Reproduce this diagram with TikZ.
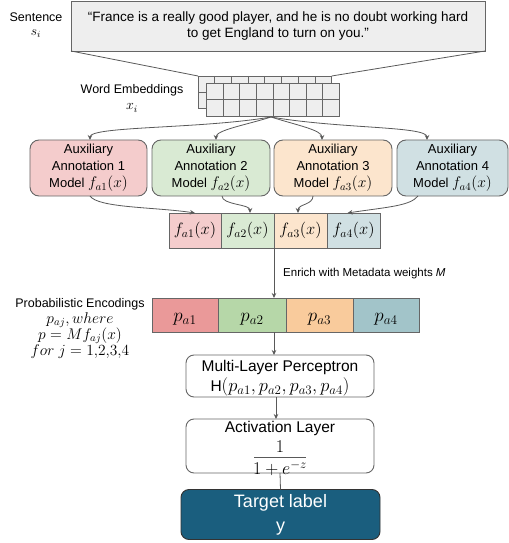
\documentclass[tikz,border=0pt]{standalone}
\usepackage{fix-cm}
\usepackage{fontspec}
\setmainfont{Liberation Sans}
\usetikzlibrary{arrows.meta}
\definecolor{edgegray}{HTML}{666666}
\definecolor{arrgray}{HTML}{595959}
\definecolor{lightg}{HTML}{EEEEEE}
\definecolor{pinkA}{HTML}{F4CCCC}
\definecolor{greenA}{HTML}{D9EAD3}
\definecolor{orangeA}{HTML}{FCE5CD}
\definecolor{blueA}{HTML}{D0E0E3}
\definecolor{pinkB}{HTML}{EA9999}
\definecolor{greenB}{HTML}{B6D7A8}
\definecolor{orangeB}{HTML}{F9CB9C}
\definecolor{blueB}{HTML}{A2C4C9}
\definecolor{teal}{HTML}{1A5E7E}
\newcommand{\fs}[2]{\fontsize{#1bp}{#2bp}\selectfont}
\newcommand{\mth}[2]{{\fontsize{#1bp}{#1bp}\selectfont$#2$}}
\tikzset{
  box/.style={draw=edgegray, line width=0.9bp, inner sep=0pt, outer sep=0pt},
  aux/.style={box, rounded corners=9bp, minimum height=56bp, align=center, font=\fs{13}{17}},
  cell/.style={box, minimum height=35bp},
  pcell/.style={box, minimum height=34bp, minimum width=67bp},
  wbox/.style={box, fill=white, rounded corners=8bp, minimum width=188bp},
  arr/.style={draw=arrgray, line width=0.8bp, -{Stealth[length=5bp,width=4.5bp]}},
  ln/.style={draw=arrgray, line width=0.8bp},
  lbl/.style={inner sep=0pt, font=\fs{12.5}{15}},
}
\begin{document}
\begin{tikzpicture}[x=1bp,y=-1bp]
\useasboundingbox (0,0) rectangle (509,543);

% Sentence
\node[box, fill=lightg, minimum width=414bp, minimum height=50bp, align=center, font=\fs{13.5}{15.5}] (sent) at (278,26)
  {``France is a really good player, and he is no doubt working hard\\to get England to turn on you.''};
\node[lbl] (senl) at (36,17) {Sentence};
\node[lbl] (sens) at (36,34) {\mth{13.5}{s_i}};

% Embedding grids
\node[box, fill=lightg, minimum width=133.7bp, minimum height=32bp] (embback) at (264.85,92) {};
\foreach \i in {1,...,7} \draw[edgegray, line width=0.9bp] ([xshift=\i*16.71bp]embback.north west) -- ([xshift=\i*16.71bp]embback.south west);
\draw[edgegray, line width=0.9bp] (embback.west) -- (embback.east);
\node[box, fill=lightg, minimum width=132.6bp, minimum height=33.7bp] (emb) at (273,99.85) {};
\foreach \i in {1,...,7} \draw[edgegray, line width=0.9bp] ([xshift=\i*16.575bp]emb.north west) -- ([xshift=\i*16.575bp]emb.south west);
\draw[edgegray, line width=0.9bp] (emb.west) -- (emb.east);
\node[lbl] (embl) at (132,90.5) {Word Embeddings};
\node[lbl] (embx) at (132,108) {\mth{14}{x_i}};

\draw[ln] (sent.south west) -- (embback.north west);
\draw[ln] (sent.south east) -- (embback.north east);

% Auxiliary models
\node[aux, fill=pinkA, minimum width=117bp] (a1) at (88.5,168) {Auxiliary\\Annotation 1\\Model \mth{15.5}{f_{a1}(x)}};
\node[aux, fill=greenA, minimum width=118bp] (a2) at (211,168) {Auxiliary\\Annotation 2\\Model \mth{15.5}{f_{a2}(x)}};
\node[aux, fill=orangeA, minimum width=118bp] (a3) at (333,168) {Auxiliary\\Annotation 3\\Model \mth{15.5}{f_{a3}(x)}};
\node[aux, fill=blueA, minimum width=111bp] (a4) at (452.5,168) {Auxiliary\\Annotation 4\\Model \mth{15.5}{f_{a4}(x)}};

\coordinate (src) at (271,117);
\draw[arr] (src) .. controls +(-70,12) and +(0,-14) .. ([xshift=1.5bp]a1.north);
\draw[arr] (src) .. controls +(-25,8) and +(0,-10) .. ([xshift=5bp]a2.north);
\draw[arr] (src) .. controls +(25,8) and +(0,-10) .. ([xshift=-11bp]a3.north);
\draw[arr] (src) .. controls +(70,12) and +(0,-14) .. ([xshift=-25.5bp]a4.north);

% f row
\node[cell, fill=pinkA, minimum width=52bp] (f1) at (195,230.5) {\mth{16.5}{f_{a1}(x)}};
\node[cell, fill=greenA, minimum width=53bp] (f2) at (247.5,230.5) {\mth{16.5}{f_{a2}(x)}};
\node[cell, fill=orangeA, minimum width=53bp] (f3) at (300.5,230.5) {\mth{16.5}{f_{a3}(x)}};
\node[cell, fill=blueA, minimum width=53bp] (f4) at (353.5,230.5) {\mth{16.5}{f_{a4}(x)}};

\draw[arr] ([xshift=1.5bp]a1.south) .. controls +(8,12) and +(-40,-6) .. ([xshift=0bp]f1.north);
\draw[arr] ([xshift=11bp]a2.south) .. controls +(0,9) and +(0,-9) .. ([xshift=2.5bp]f2.north);
\draw[arr] ([xshift=-20bp]a3.south) .. controls +(0,9) and +(0,-9) .. ([xshift=-2.5bp]f3.north);
\draw[arr] ([xshift=-34.5bp]a4.south) .. controls +(-8,10) and +(40,-6) .. ([xshift=-6bp]f4.north);

% p row
\node[pcell, fill=pinkB, minimum width=66bp] (p1) at (185,315) {};
\node[pcell, fill=greenB, minimum width=68bp] (p2) at (252,315) {};
\node[pcell, fill=orangeB, minimum width=67bp] (p3) at (319.5,315) {};
\node[pcell, fill=blueB, minimum width=66bp] (p4) at (386,315) {};
\node[inner sep=0pt] (p1t) at (185,319) {\mth{19}{p_{a1}}};
\node[inner sep=0pt] (p2t) at (252,319) {\mth{19}{p_{a2}}};
\node[inner sep=0pt] (p3t) at (319.5,319) {\mth{19}{p_{a3}}};
\node[inner sep=0pt] (p4t) at (386,319) {\mth{19}{p_{a4}}};

\draw[arr] (f2.south east) -- (f2.south east |- p2.north);
\node[inner sep=0pt, anchor=west, font=\fs{11.5}{14}] (enr) at (283,274) {Enrich with Metadata weights \textit{M}};

\node[lbl] (pel) at (80,304) {Probabilistic Encodings};
\node[inner sep=0pt] (pe1) at (80,320) {\mth{15.5}{p_{aj}, where}};
\node[inner sep=0pt] (pe2) at (80,336) {\mth{15.5}{p = Mf_{aj}(x)}};
\node[inner sep=0pt] (pe3) at (80,352) {\mth{15.5}{for\ j = 1{,}2{,}3{,}4}};

% MLP
\node[wbox, minimum height=42bp] (mlp) at (280,376) {};
\node[inner sep=0pt, font=\fs{15.5}{18}] (mlpt) at (280,367) {Multi-Layer Perceptron};
\node[inner sep=0pt, font=\fs{15.5}{18}] (mlph) at (280,387) {H\mth{18.5}{(p_{a1},p_{a2},p_{a3},p_{a4})}};
\draw[arr] (f2.south east |- p2.south) -- (f2.south east |- mlp.north);

% Activation
\node[wbox, minimum height=54bp] (act) at (280,446) {};
\node[inner sep=0pt, font=\fs{15.5}{18}] (actt) at (280,428) {Activation Layer};
\node[inner sep=0pt] (actn) at (280,446.5) {\mth{18}{1}};
\node[inner sep=0pt] (actd) at (280,468.5) {\mth{18}{1+e^{-z}}};
\draw[ln, line width=1bp] (254,457) -- (306,457);
\draw[arr] ([xshift=-4bp]mlp.south) -- ([xshift=-4bp]act.north);

% Target
\node[box, draw=black!80, fill=teal, rounded corners=8bp, minimum width=199bp, minimum height=50bp,
      align=center, text=white, font=\fs{18}{24}] (tgt) at (280.5,514.5) {Target label\\y};
\draw[ln] (act.south) -- (tgt.north);
\end{tikzpicture}
\end{document}
